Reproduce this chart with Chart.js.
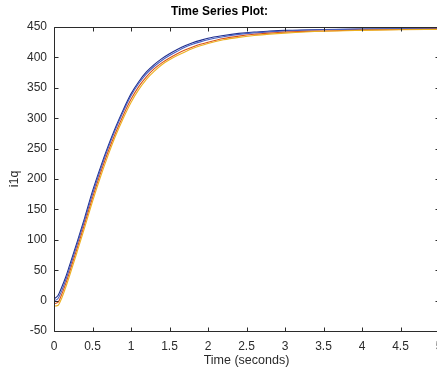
<!DOCTYPE html>
<html>
<head>
<meta charset="utf-8">
<script src="https://cdn.jsdelivr.net/npm/chart.js@4/dist/chart.umd.min.js"></script>
<style>
  html, body { margin: 0; padding: 0; background: #fff; overflow: hidden; }
  #wrap { width: 445px; height: 368px; }
</style>
</head>
<body>
<div id="wrap"><canvas id="myChart" width="445" height="368"></canvas></div>
<script>
// Tiempos (segundos)
var times = [0, 0.05, 0.1, 0.15, 0.2, 0.3, 0.4, 0.5, 0.6, 0.7, 0.8, 0.9, 1.0, 1.1, 1.2, 1.3, 1.4, 1.5,
             1.6, 1.7, 1.8, 1.9, 2.0, 2.2, 2.4, 2.6, 2.8, 3.0, 3.5, 4.0, 4.5, 5.0];

// Valores de i1q para cada serie
var i1qSerie1 = [3, 8, 22, 38, 57, 96, 137, 180, 218, 253, 285, 314, 340, 360, 376, 388, 398, 406,
                 413, 419, 424, 428, 431.5, 436, 439.5, 441.8, 443.3, 444.5, 446, 446.7, 447, 447];
var i1qSerie2 = [0, 3, 16, 33, 52, 92, 133, 175, 214, 250, 282, 311, 337, 357, 373, 385, 395, 403,
                 410, 416.5, 421.5, 425.5, 429, 434, 437.8, 440.3, 442, 443.5, 445.5, 446.5, 447, 447];
var i1qSerie3 = [-5, -3, 10, 27, 46, 86, 127, 169, 208, 244, 276, 305, 331, 352, 368, 381, 391, 399,
                 406, 412, 417, 421.5, 425, 431, 435, 438, 440, 441.5, 443.5, 445, 446, 446.5];
var i1qSerie4 = [-9, -8, 4, 21, 40, 80, 121, 163, 202, 238, 271, 300, 326, 347, 364, 377, 388, 396,
                 403, 409, 414.5, 419, 423, 429, 433, 436, 438.3, 440, 443, 444.5, 445.5, 446];

// Ticks de los ejes
var xTicks = [0, 0.5, 1, 1.5, 2, 2.5, 3, 3.5, 4, 4.5, 5];
var yTicks = [-50, 0, 50, 100, 150, 200, 250, 300, 350, 400, 450];

var seriesList = [i1qSerie4, i1qSerie3, i1qSerie2, i1qSerie1];
var seriesColors = ['#EDB120', '#D95319', '#4a5fc0', '#1f2f8f'];

var datasets = seriesList.map(function(values, i) {
    return {
        data: times.map(function(t, j) { return { x: t, y: values[j] }; }),
        borderColor: seriesColors[i],
        borderWidth: 1.1,
        pointRadius: 0,
        fill: false,
        cubicInterpolationMode: 'monotone'
    };
});

var axisColor = '#2b2b2b';
var fontFamily = '"Liberation Sans", Arial, sans-serif';

// Caja del gráfico con ticks hacia adentro (estilo MATLAB)
var boxPlugin = {
    id: 'boxPlugin',
    afterDraw: function(chart) {
        var ctx = chart.ctx;
        var area = chart.chartArea;
        var xs = chart.scales.x;
        var ys = chart.scales.y;
        var L = Math.round(area.left) + 0.5, R = Math.round(area.right) + 0.5;
        var T = Math.round(area.top) + 0.5, B = Math.round(area.bottom) + 0.5;
        ctx.save();
        ctx.strokeStyle = axisColor;
        ctx.lineWidth = 1;
        ctx.beginPath();
        ctx.rect(L, T, R - L, B - T);
        xTicks.forEach(function(v) {
            var px = Math.round(xs.getPixelForValue(v)) + 0.5;
            ctx.moveTo(px, B); ctx.lineTo(px, B - 4);
            ctx.moveTo(px, T); ctx.lineTo(px, T + 4);
        });
        yTicks.forEach(function(v) {
            var py = Math.round(ys.getPixelForValue(v)) + 0.5;
            ctx.moveTo(L, py); ctx.lineTo(L + 4, py);
            ctx.moveTo(R, py); ctx.lineTo(R - 4, py);
        });
        ctx.stroke();
        ctx.restore();
    }
};

var ctx = document.getElementById('myChart').getContext('2d');
var myChart = new Chart(ctx, {
    type: 'line',
    data: { datasets: datasets },
    options: {
        responsive: false,
        animation: false,
        layout: { padding: { top: 0, right: 6, bottom: 0, left: 0 } },
        plugins: {
            legend: { display: false },
            tooltip: { enabled: false },
            title: {
                display: true,
                text: 'Time Series Plot:',
                color: '#000',
                font: { family: fontFamily, size: 12, weight: 'bold' },
                padding: { top: 4, bottom: 8.6 }
            }
        },
        scales: {
            x: {
                type: 'linear',
                min: 0,
                max: 5,
                grid: { display: false, drawTicks: false },
                border: { display: false },
                afterBuildTicks: function(scale) {
                    scale.ticks = xTicks.map(function(v) { return { value: v }; });
                },
                afterFit: function(scale) {
                    scale.height = 37;
                    scale.paddingLeft = 0;
                    scale.paddingRight = 0;
                },
                ticks: {
                    color: axisColor,
                    font: { family: fontFamily, size: 12 },
                    padding: 8,
                    maxRotation: 0,
                    autoSkip: false,
                    callback: function(value) { return String(value); }
                },
                title: {
                    display: true,
                    text: 'Time (seconds)',
                    color: axisColor,
                    font: { family: fontFamily, size: 12.5 },
                    padding: { top: 0, bottom: 0 }
                }
            },
            y: {
                type: 'linear',
                min: -50,
                max: 450,
                grid: { display: false, drawTicks: false },
                border: { display: false },
                afterBuildTicks: function(scale) {
                    scale.ticks = yTicks.map(function(v) { return { value: v }; });
                },
                afterFit: function(scale) { scale.width = 54; },
                ticks: {
                    color: axisColor,
                    font: { family: fontFamily, size: 12 },
                    padding: 7,
                    autoSkip: false,
                    callback: function(value) { return String(value); }
                },
                title: {
                    display: true,
                    text: 'i1q',
                    color: axisColor,
                    font: { family: fontFamily, size: 12.5 },
                    padding: { top: 7, bottom: 0 }
                }
            }
        }
    },
    plugins: [boxPlugin]
});
</script>
</body>
</html>
